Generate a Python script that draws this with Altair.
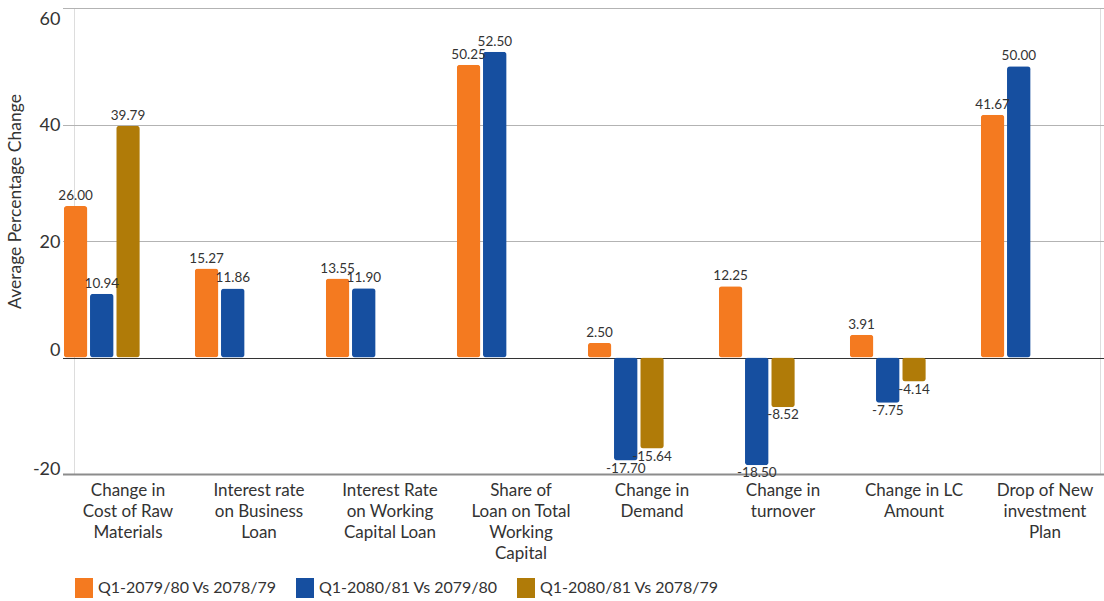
import altair as alt
import pandas as pd

categories = [
    "Change in|Cost of Raw|Materials",
    "Interest rate|on Business|Loan",
    "Interest Rate|on Working|Capital Loan",
    "Share of|Loan on Total|Working|Capital",
    "Change in|Demand",
    "Change in|turnover",
    "Change in LC|Amount",
    "Drop of New|investment|Plan",
]
series = ["Q1-2079/80 Vs 2078/79", "Q1-2080/81 Vs 2079/80", "Q1-2080/81 Vs 2078/79"]
s1 = [26.00, 15.27, 13.55, 50.25, 2.50, 12.25, 3.91, 41.67]
s2 = [10.94, 11.86, 11.90, 52.50, -17.70, -18.50, -7.75, 50.00]
s3 = [39.79, None, None, None, -15.64, -8.52, -4.14, None]
colors = ["#F47A20", "#164FA0", "#B07B08"]
y_ticks = [-20, 0, 20, 40, 60]

rows = []
for name, vals in zip(series, [s1, s2, s3]):
    for cat, v in zip(categories, vals):
        if v is not None:
            rows.append({"category": cat, "series": name, "value": v})
df = pd.DataFrame(rows)

W, H = 1026, 466

x_enc = alt.X(
    "category:N",
    sort=categories,
    scale=alt.Scale(domain=categories, range=[-11.5, 1036.5], paddingInner=0, paddingOuter=0),
    axis=alt.Axis(
        title=None,
        labelAngle=0,
        labelExpr="split(datum.label, '|')",
        labelFont="Lato",
        labelFontSize=17,
        labelColor="#333333",
        labelLineHeight=21,
        labelPadding=8,
        labelBaseline="top",
        ticks=False,
        domain=True,
        domainColor="#8c8c8c",
        domainWidth=2,
        grid=False,
    ),
)
xoff_enc = alt.XOffset(
    "series:N",
    scale=alt.Scale(domain=series + ["_a", "_b"], paddingInner=0.1, paddingOuter=0.05),
)

base = alt.Chart(df).encode(x=x_enc, xOffset=xoff_enc).transform_calculate(
    label="replace(format(datum.value, '.2f'), '\u2212', '-')"
)

bars = base.mark_bar(cornerRadius=3).encode(
    y=alt.Y(
        "value:Q",
        scale=alt.Scale(domain=[-20, 60], nice=False, zero=False),
        axis=alt.Axis(
            values=y_ticks,
            title="Average Percentage Change",
            titleFont="Lato",
            titleFontSize=17.5,
            titleFontWeight="normal",
            titleColor="#333333",
            titleX=-50,
            titleY=193,
            labelFont="Lato",
            labelFontSize=18,
            labelColor="#333333",
            labelPadding=14,
            labelExpr="replace(datum.label, '\u2212', '-')",
            labelOffset={
                "condition": [
                    {"test": "datum.value === 60", "value": 11},
                    {"test": "datum.value === 0", "value": -7},
                    {"test": "datum.value === -20", "value": -5},
                ],
                "value": 1,
            },
            ticks=False,
            domain=False,
            grid=True,
            gridColor={"condition": {"test": "datum.value === 0", "value": "#333333"}, "value": "#b3b3b3"},
            gridWidth=1,
        ),
    ),
    color=alt.Color(
        "series:N",
        scale=alt.Scale(domain=series, range=colors),
        legend=alt.Legend(
            title=None,
            orient="none",
            legendX=0,
            legendY=570,
            direction="horizontal",
            symbolType="M-0.9,-1H0.9V1H-0.9Z",
            symbolSize=400,
            symbolStrokeWidth=0,
            labelFont="Lato",
            labelFontSize=16,
            labelColor="#333333",
            labelLimit=0,
            labelOffset=4,
            columnPadding=18,
        ),
    ),
)

pos_text = base.transform_filter("datum.value >= 0").mark_text(
    baseline="bottom", dy=-3, font="Lato", fontSize=13.5, color="#333333"
).encode(y="value:Q", text="label:N")

neg_text = base.transform_filter("datum.value < 0").mark_text(
    baseline="top", dy=1, font="Lato", fontSize=13.5, color="#333333"
).encode(y="value:Q", text="label:N")

chart = (
    alt.layer(bars, pos_text, neg_text)
    .properties(
        width=W,
        height=H,
        autosize=alt.AutoSizeParams(type="none"),
        padding={"left": 74, "top": 8, "right": 4, "bottom": 127},
    )
    .configure_view(stroke=None)
    .configure(background="white")
)

chart.save("out.html", embed_options={"renderer": "svg", "actions": False})
